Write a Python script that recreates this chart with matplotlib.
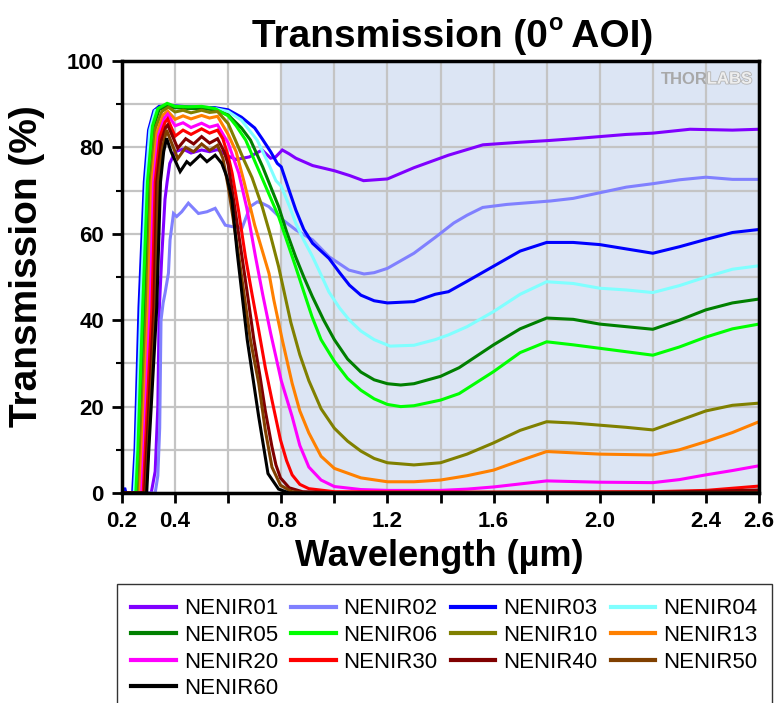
import matplotlib
matplotlib.use("Agg")
import matplotlib.pyplot as plt
import matplotlib.patheffects as pe
from matplotlib.ticker import MultipleLocator, FixedLocator, FixedFormatter

plt.rcParams["font.family"] = ["Liberation Sans", "DejaVu Sans"]

# ---- data (wavelength in um, transmission in %) ----
wl_01 = [0.20, 0.31, 0.325, 0.335, 0.34, 0.35, 0.362, 0.37, 0.38, 0.40, 0.43, 0.46, 0.50, 0.53, 0.56,
         0.60, 0.63, 0.68, 0.728, 0.76, 0.779, 0.804, 0.83, 0.855, 0.918, 1.00, 1.057, 1.11, 1.20, 1.30,
         1.43, 1.56, 1.70, 1.81, 1.90, 2.00, 2.10, 2.20, 2.34, 2.50, 2.60]
t_01 = [0, 0, 5, 20, 42, 55, 68, 72, 76.3, 79, 79.6, 78.7, 79.4, 79, 79.5,
        78, 77.2, 77.8, 79.4, 77.5, 77.8, 79.4, 78.5, 77.5, 75.8, 74.6, 73.5, 72.3, 72.7, 75.3,
        78.2, 80.6, 81.2, 81.6, 82, 82.5, 83, 83.3, 84.2, 84, 84.2]

wl_02 = [0.20, 0.325, 0.335, 0.342, 0.347, 0.355, 0.362, 0.375, 0.381, 0.394, 0.406, 0.425, 0.45,
         0.488, 0.52, 0.551, 0.589, 0.62, 0.652, 0.683, 0.71, 0.727, 0.753, 0.80, 0.855, 0.918, 0.98,
         1.055, 1.112, 1.15, 1.20, 1.30, 1.383, 1.45, 1.50, 1.559, 1.65, 1.815, 1.90, 2.00, 2.10,
         2.20, 2.30, 2.40, 2.50, 2.60]
t_02 = [0, 0, 4, 15, 40, 44, 46.2, 50.9, 58.6, 64.7, 64, 65.1, 67.1,
        64.7, 65.1, 65.9, 62, 61.6, 61.3, 66.3, 67.4, 67.1, 66.3, 63.5, 60.9, 58.6, 54.7,
        51.6, 50.7, 51, 52, 55.5, 59.3, 62.5, 64.3, 66.1, 66.8, 67.6, 68.2, 69.5, 70.8,
        71.6, 72.5, 73.1, 72.6, 72.6]

wl_03 = [0.20, 0.205, 0.21, 0.215, 0.24, 0.249, 0.264, 0.284, 0.30, 0.32, 0.34, 0.40, 0.45, 0.50,
         0.55, 0.60, 0.65, 0.70, 0.728, 0.76, 0.785, 0.80, 0.83, 0.855, 0.885, 0.918, 0.95, 0.98,
         1.02, 1.057, 1.10, 1.15, 1.20, 1.30, 1.38, 1.43, 1.50, 1.60, 1.70, 1.80, 1.90, 2.00, 2.10,
         2.20, 2.30, 2.40, 2.50, 2.60]
t_03 = [0, 0.3, 1.2, 0, 0, 10, 43, 72, 84, 88.5, 89.5, 89.6, 89.4, 89.3,
        89.2, 88.7, 87, 84.5, 82, 79, 76.3, 75.5, 70, 65.5, 61, 57.8, 56, 54.3,
        51, 48.1, 45.8, 44.5, 44, 44.3, 46, 46.6, 49, 52.5, 56, 58, 58, 57.5, 56.5,
        55.5, 57, 58.7, 60.3, 61]

wl_04 = [0.20, 0.246, 0.2545, 0.271, 0.29, 0.305, 0.325, 0.35, 0.40, 0.45, 0.50, 0.55, 0.60, 0.65,
         0.709, 0.75, 0.78, 0.80, 0.83, 0.855, 0.885, 0.918, 0.95, 0.98, 1.02, 1.057, 1.10, 1.15,
         1.21, 1.30, 1.38, 1.43, 1.50, 1.60, 1.70, 1.80, 1.90, 2.00, 2.10, 2.20, 2.30, 2.40, 2.50, 2.60]
t_04 = [0, 0, 10, 43, 72, 84, 88.5, 89.2, 89.3, 89.2, 89.1, 89, 88.3, 86.3,
        81.7, 76.5, 72.3, 71, 66.5, 62.4, 58.5, 54.7, 50.5, 46.5, 42.8, 40, 37.5, 35.5,
        34, 34.2, 35.5, 36.6, 38.5, 42, 46, 48.9, 48.5, 47.4, 47, 46.4, 48, 50, 51.8, 52.6]

wl_05 = [0.20, 0.2575, 0.2655, 0.285, 0.302, 0.32, 0.34, 0.37, 0.40, 0.45, 0.50, 0.55, 0.60, 0.65,
         0.684, 0.73, 0.79, 0.82, 0.854, 0.885, 0.917, 0.96, 1.00, 1.05, 1.10, 1.15, 1.20, 1.25,
         1.30, 1.40, 1.47, 1.60, 1.70, 1.80, 1.90, 2.00, 2.10, 2.20, 2.30, 2.40, 2.50, 2.60]
t_05 = [0, 0, 10, 43, 72, 85, 88.8, 89.5, 89.2, 89, 89, 88.7, 87.5, 84.5,
        81.7, 75.5, 66.3, 60.5, 54.7, 50, 45.5, 40, 35.5, 31, 28, 26.2, 25.3, 25,
        25.3, 27, 29, 34.3, 38, 40.5, 40.2, 39.1, 38.5, 37.9, 40, 42.4, 44, 44.9]

wl_06 = [0.20, 0.252, 0.26, 0.278, 0.296, 0.315, 0.335, 0.37, 0.40, 0.45, 0.50, 0.55, 0.60, 0.63,
         0.666, 0.72, 0.79, 0.854, 0.88, 0.916, 0.95, 1.00, 1.05, 1.10, 1.15, 1.20, 1.25, 1.30,
         1.40, 1.47, 1.60, 1.70, 1.80, 1.90, 2.00, 2.10, 2.20, 2.30, 2.40, 2.50, 2.60]
t_06 = [0, 0, 10, 43, 72, 85, 89, 90.2, 89.5, 89.4, 89.5, 89, 87.3, 85,
        81.7, 74, 64, 52.4, 47.5, 40.8, 35.5, 30.5, 26.5, 23.8, 21.8, 20.5, 20, 20.2,
        21.5, 23, 28.1, 32.5, 35, 34.3, 33.5, 32.7, 31.9, 33.8, 36.1, 38, 39.1]

wl_10 = [0.20, 0.263, 0.271, 0.292, 0.308, 0.326, 0.35, 0.375, 0.40, 0.43, 0.46, 0.50, 0.53, 0.56,
         0.60, 0.627, 0.66, 0.69, 0.728, 0.76, 0.79, 0.836, 0.87, 0.904, 0.95, 1.00, 1.05, 1.10,
         1.15, 1.20, 1.30, 1.40, 1.50, 1.60, 1.70, 1.80, 1.90, 2.00, 2.10, 2.20, 2.30, 2.40, 2.50, 2.60]
t_10 = [0, 0, 10, 43, 72, 84.5, 88.3, 89.3, 88.2, 88.6, 88, 88.6, 88.1, 88.3,
        85.5, 81.7, 77, 73, 66.3, 59.5, 52.4, 39.5, 32, 26, 19.5, 15, 12, 9.7,
        8, 7, 6.5, 7, 9, 11.6, 14.5, 16.5, 16.2, 15.7, 15.2, 14.6, 16.8, 19, 20.3, 20.8]

wl_13 = [0.20, 0.268, 0.2765, 0.299, 0.313, 0.332, 0.355, 0.372, 0.40, 0.43, 0.46, 0.50, 0.53, 0.56,
         0.60, 0.63, 0.66, 0.70, 0.754, 0.772, 0.804, 0.841, 0.87, 0.904, 0.95, 1.00, 1.10, 1.20,
         1.30, 1.40, 1.50, 1.60, 1.70, 1.80, 1.90, 2.00, 2.10, 2.20, 2.30, 2.40, 2.50, 2.60]
t_13 = [0, 0, 10, 43, 72, 83.5, 87.5, 88.4, 86.5, 87.3, 86.6, 87.4, 86.8, 87.2,
        83, 79, 72, 62, 50.8, 44.7, 35.4, 25.4, 19, 13.9, 8.5, 5.7, 3.5, 2.6,
        2.6, 3, 4, 5.3, 7.5, 9.6, 9.3, 9, 8.9, 8.8, 10, 11.9, 14, 16.5]

wl_20 = [0.20, 0.274, 0.282, 0.306, 0.319, 0.338, 0.36, 0.372, 0.40, 0.43, 0.46, 0.50, 0.53, 0.56,
         0.60, 0.64, 0.67, 0.703, 0.73, 0.76, 0.80, 0.841, 0.87, 0.904, 0.95, 1.00, 1.10, 1.20,
         1.40, 1.50, 1.60, 1.70, 1.80, 2.00, 2.20, 2.30, 2.40, 2.50, 2.60]
t_20 = [0, 0, 10, 43, 72, 83, 86.8, 87.7, 85, 85.7, 84.6, 85.6, 84.7, 85.2,
        81, 74, 66, 54.7, 46, 37, 26, 17.7, 11, 6, 3, 1.5, 0.8, 0.6,
        0.6, 0.9, 1.4, 2.1, 2.8, 2.5, 2.4, 3.1, 4.2, 5.2, 6.3]

wl_30 = [0.20, 0.28, 0.2875, 0.313, 0.325, 0.343, 0.362, 0.372, 0.40, 0.43, 0.46, 0.50, 0.53, 0.56,
         0.58, 0.60, 0.615, 0.64, 0.665, 0.69, 0.715, 0.74, 0.765, 0.797, 0.82, 0.841, 0.87, 0.904,
         1.00, 1.50, 2.20, 2.40, 2.60]
t_30 = [0, 0, 10, 43, 72, 82.5, 85.8, 86.6, 82.6, 84, 83, 84.3, 83.3, 84,
        82, 78, 74, 65, 54.7, 46, 37.7, 29, 21.5, 12.3, 7.5, 4.2, 2, 1,
        0.3, 0.2, 0.3, 0.6, 1.6]

wl_40 = [0.20, 0.285, 0.293, 0.320, 0.331, 0.348, 0.365, 0.372, 0.41, 0.44, 0.47, 0.50, 0.53, 0.56,
         0.585, 0.60, 0.625, 0.652, 0.675, 0.697, 0.72, 0.74, 0.765, 0.78, 0.797, 0.83, 0.88, 1.00,
         2.20, 2.40, 2.60]
t_40 = [0, 0, 10, 43, 72, 81.5, 84.7, 85.2, 79.8, 82, 80.8, 82.5, 81, 82,
        79, 76, 66, 54.7, 45, 35.4, 27, 19, 10.7, 6.5, 3.5, 1.2, 0.3, 0.1,
        0.2, 0.4, 0.7]

wl_50 = [0.20, 0.29, 0.2985, 0.327, 0.337, 0.353, 0.368, 0.41, 0.44, 0.47, 0.50, 0.53, 0.56, 0.58,
         0.60, 0.62, 0.64, 0.684, 0.715, 0.74, 0.765, 0.797, 0.84, 0.90, 2.60]
t_50 = [0, 0, 10, 43, 72, 80, 84, 77.4, 80, 79, 80.8, 79.3, 80.5, 77.5,
        71, 63, 54.7, 35.4, 25.4, 14.5, 6, 1.8, 0.3, 0, 0.1]

wl_60 = [0.20, 0.293, 0.301, 0.331, 0.345, 0.357, 0.368, 0.385, 0.419, 0.444, 0.457, 0.495, 0.52,
         0.551, 0.576, 0.595, 0.614, 0.633, 0.672, 0.715, 0.75, 0.79, 0.83, 2.60]
t_60 = [0, 0, 10, 43, 72, 79, 82.1, 79, 74.4, 76.7, 76, 78.2, 76.7,
        78.2, 76.3, 73.2, 67.9, 56.2, 35.4, 17.7, 4.5, 0.9, 0, 0]

names = ["NENIR01", "NENIR02", "NENIR03", "NENIR04", "NENIR05", "NENIR06", "NENIR10",
         "NENIR13", "NENIR20", "NENIR30", "NENIR40", "NENIR50", "NENIR60"]
colors = ["#8000ff", "#8080ff", "#0000ff", "#80ffff", "#008000", "#00ff00", "#808000",
          "#ff8000", "#ff00ff", "#ff0000", "#800000", "#804000", "#000000"]
series = [(wl_01, t_01), (wl_02, t_02), (wl_03, t_03), (wl_04, t_04), (wl_05, t_05),
          (wl_06, t_06), (wl_10, t_10), (wl_13, t_13), (wl_20, t_20), (wl_30, t_30),
          (wl_40, t_40), (wl_50, t_50), (wl_60, t_60)]

xticks = [0.2, 0.4, 0.6, 0.8, 1.0, 1.2, 1.4, 1.6, 1.8, 2.0, 2.2, 2.4, 2.6]
xtick_labels = ["0.2", "0.4", "", "0.8", "", "1.2", "", "1.6", "", "2.0", "", "2.4", "2.6"]

W, H = 780, 703
fig = plt.figure(figsize=(W / 100, H / 100), dpi=100)
ax = fig.add_axes([122 / W, 1 - 493 / H, 637 / W, 432 / H])

ax.axvspan(0.8, 2.6, color="#dce5f4", zorder=0, lw=0)

handles = {}
for name, col, (x, y) in zip(names, colors, series):
    (ln,) = ax.plot(x, y, color=col, lw=2.2, solid_joinstyle="miter", label=name)
    handles[name] = ln

ax.set_xlim(0.2, 2.6)
ax.set_ylim(0, 100)
ax.xaxis.set_major_locator(FixedLocator(xticks))
ax.xaxis.set_major_formatter(FixedFormatter(xtick_labels))
ax.yaxis.set_major_locator(MultipleLocator(20))
ax.yaxis.set_minor_locator(MultipleLocator(10))

ax.set_axisbelow(True)
ax.grid(axis="x", which="major", color="#c4c4c4", lw=1.6)
ax.grid(axis="y", which="both", color="#c4c4c4", lw=1.6)

for s in ax.spines.values():
    s.set_linewidth(2.5)
ax.tick_params(which="major", direction="out", length=7, width=2, pad=6)
ax.tick_params(which="minor", direction="out", length=4, width=1.5)
for lab in ax.get_xticklabels() + ax.get_yticklabels():
    lab.set_fontsize(16)
    lab.set_fontweight("bold")

# title with small raised "o", pieced together and centred
renderer = fig.canvas.get_renderer()
title_parts = [("Transmission (0", 28, 0), ("o", 17, 17), (" AOI)", 28, 0)]
widths = []
for txt, fs, _ in title_parts:
    t = fig.text(0, 0, txt, fontsize=fs, fontweight="bold")
    widths.append(t.get_window_extent(renderer).width)
    t.remove()
xpos = 453 - sum(widths) / 2
for (txt, fs, rise), w in zip(title_parts, widths):
    fig.text(xpos / W, 1 - (47 - rise) / H, txt, fontsize=fs, fontweight="bold",
             ha="left", va="baseline")
    xpos += w

fig.text(439 / W, 1 - 566 / H, "Wavelength (\u00b5m)", ha="center", va="baseline",
         fontsize=26, fontweight="bold")
fig.text(27 / W, 1 - 266 / H, "Transmission (%)", ha="center", va="center",
         rotation=90, fontsize=28, fontweight="bold")

# logo
ax.text(0.846, 0.958, "THOR", transform=ax.transAxes, fontsize=12, fontweight="bold",
        color="#a8a8a8", ha="left", va="center")
ax.text(0.918, 0.958, "LABS", transform=ax.transAxes, fontsize=12, fontweight="bold",
        color="#eeeeee", ha="left", va="center",
        path_effects=[pe.withStroke(linewidth=1.2, foreground="#b4b4b4")])

# legend: matplotlib fills column-major, reference reads row-major
order = ["NENIR01", "NENIR05", "NENIR20", "NENIR60",
         "NENIR02", "NENIR06", "NENIR30",
         "NENIR03", "NENIR10", "NENIR40",
         "NENIR04", "NENIR13", "NENIR50"]
leg = fig.legend([handles[n] for n in order], order, ncol=4, loc="upper left",
                 bbox_to_anchor=(117 / W, 1 - 584 / H), fontsize=16, frameon=True,
                 fancybox=False, edgecolor="black", handlelength=2.0, handletextpad=0.35,
                 columnspacing=0.6, labelspacing=0.25, borderpad=0.65, borderaxespad=0)
leg.get_frame().set_linewidth(1.0)
for ln in leg.get_lines():
    ln.set_linewidth(3)

fig.savefig("out.png", dpi=100)
